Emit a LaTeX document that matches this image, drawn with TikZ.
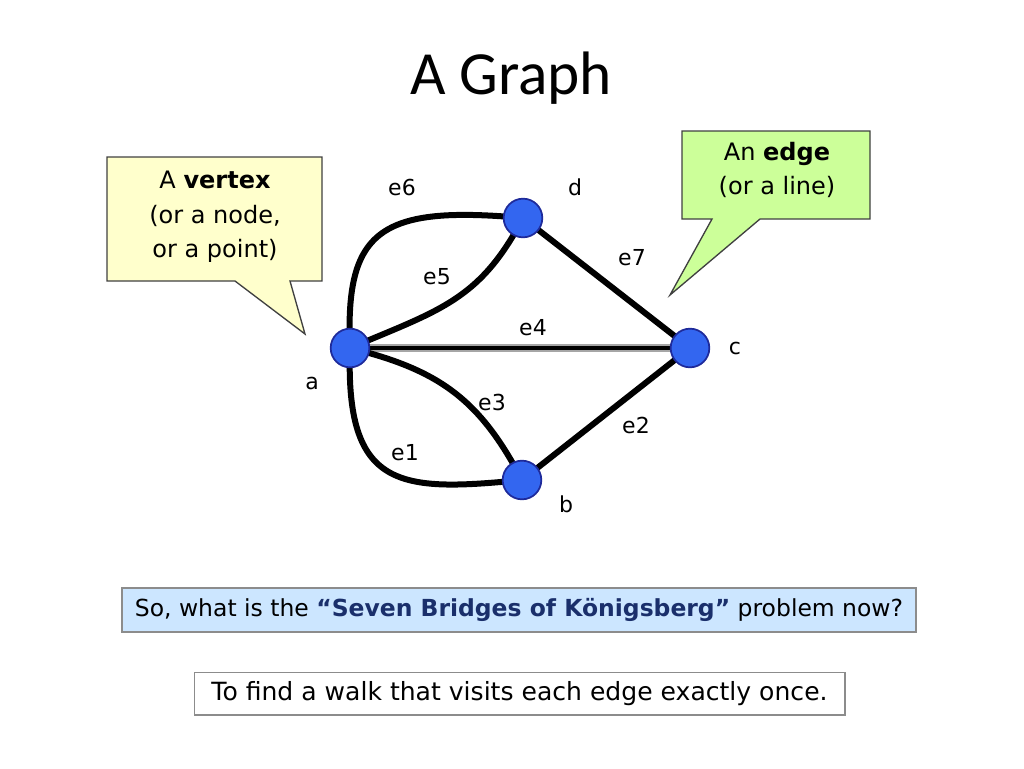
\documentclass[tikz,border=0pt]{standalone}
\usepackage{fontspec}
\setmainfont{Carlito}
\newfontfamily\comic{DejaVu Sans}
\newfontfamily\lab{DejaVu Sans}
\definecolor{yel}{HTML}{FFFFCC}
\definecolor{grn}{HTML}{CCFF99}
\definecolor{lblue}{HTML}{CCE6FF}
\definecolor{vfill}{HTML}{3366F0}
\definecolor{vdraw}{HTML}{1E2A9A}
\definecolor{qblue}{HTML}{1A2F6B}
\begin{document}
\begin{tikzpicture}[x=0.75pt,y=-0.75pt,
  vtx/.style={circle,fill=vfill,draw=vdraw,line width=1.3pt,minimum size=29pt,inner sep=0pt},
  edge/.style={line width=4.5pt,black},
  lbl/.style={font=\lab\fontsize{16.5}{18}\selectfont,inner sep=0pt},
  callout/.style={draw=black!75,line width=1pt},
  ctext/.style={font=\comic\fontsize{18}{26}\selectfont,align=center,inner sep=0pt}]
\useasboundingbox (0,0) rectangle (1024,768);
% title
\node[font=\fontsize{46}{50}\selectfont] (title) at (511,78) {A Graph};
% callouts
\draw[callout,fill=yel] (107,157) -- (322,157) -- (322,281) -- (290,281) -- (305,334) -- (235,281) -- (107,281) -- cycle;
\node[ctext] (t1) at (215,217) {A \textbf{vertex}\\(or a node,\\or a point)};
\draw[callout,fill=grn] (682,131) -- (870,131) -- (870,219) -- (760,219) -- (670,295) -- (712,219) -- (682,219) -- cycle;
\node[ctext] (t2) at (777,170) {An \textbf{edge}\\(or a line)};
% vertices
\coordinate (A) at (350,348);
\coordinate (D) at (523,218);
\coordinate (C) at (690,348);
\coordinate (B) at (522,480);
% edges
\draw[edge] (A) .. controls (345,230) and (380,205) .. (D);
\draw[edge] (A) .. controls (440,310) and (480,300) .. (D);
\draw[line width=6pt,black!35] (A) -- (C);
\draw[line width=3.5pt,black] (A) -- (C);
\draw[edge] (A) .. controls (440,370) and (480,400) .. (B);
\draw[edge] (A) .. controls (345,490) and (400,492) .. (B);
\draw[edge] (B) -- (C);
\draw[edge] (D) -- (C);
\node[vtx] (a) at (A) {};
\node[vtx] (d) at (D) {};
\node[vtx] (c) at (C) {};
\node[vtx] (b) at (B) {};
% labels
\node[lbl] (le6) at (402,187) {e6};
\node[lbl] (ld) at (575,187) {d};
\node[lbl] (le7) at (632,258) {e7};
\node[lbl] (le5) at (437,277) {e5};
\node[lbl] (le4) at (533,328) {e4};
\node[lbl] (lc) at (735,348) {c};
\node[lbl] (la) at (312,383) {a};
\node[lbl] (le3) at (492,402) {e3};
\node[lbl] (le2) at (636,425) {e2};
\node[lbl] (le1) at (405,453) {e1};
\node[lbl] (lb) at (566,504) {b};
% bottom boxes
\node[draw=black!45,line width=1pt,fill=lblue,minimum width=595.5pt,minimum height=33pt,inner sep=0pt,font=\comic\fontsize{17.6}{20}\selectfont] (q) at (519,610) {So, what is the \textcolor{qblue}{\textbf{“Seven Bridges of Königsberg”}} problem now?};
\node[draw=black!45,line width=1pt,fill=white,minimum width=488pt,minimum height=32pt,inner sep=0pt,font=\comic\fontsize{18.8}{21}\selectfont] (ans) at (519.5,693.5) {To find a walk that visits each edge exactly once.};
\end{tikzpicture}
\end{document}
